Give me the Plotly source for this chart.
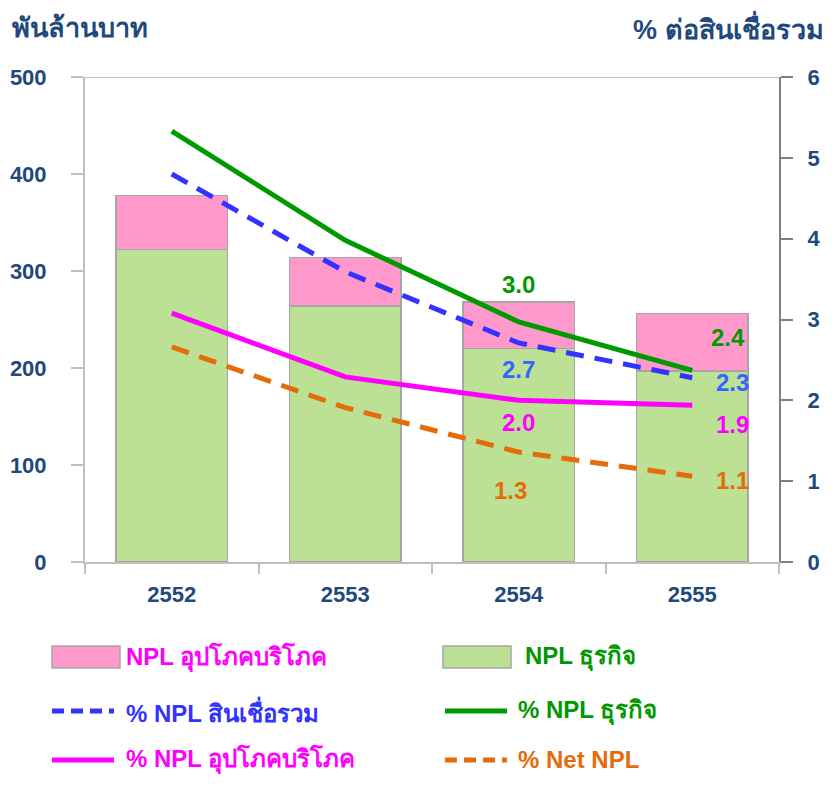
import plotly.graph_objects as go

years = ["2552", "2553", "2554", "2555"]
npl_business = [322, 264, 220, 197]
npl_consumer = [56, 50, 48, 59]
pct_total = [4.80, 3.59, 2.71, 2.28]
pct_business = [5.33, 3.98, 2.97, 2.37]
pct_consumer = [3.08, 2.29, 2.00, 1.94]
pct_net = [2.66, 1.91, 1.36, 1.06]
lbl_total = ["", "", "2.7", "2.3"]
lbl_business = ["", "", "3.0", "2.4"]
lbl_consumer = ["", "", "2.0", "1.9"]
lbl_net = ["", "", "1.3", "1.1"]
left_ticks = [0, 100, 200, 300, 400, 500]
right_ticks = [0, 1, 2, 3, 4, 5, 6]

NAVY = "#1F497D"
TICKFONT = dict(family="Liberation Sans Narrow, Arial Narrow, Liberation Sans, sans-serif",
                size=22, color=NAVY, weight="bold")
C_PINK, C_LGREEN = "#FF99CC", "#BCE194"
C_BLUE, C_GREEN, C_MAG, C_ORANGE = "#3333FF", "#009900", "#FF00FF", "#E46C0A"
C_BLUE_TXT = "#3366FF"

OFF = 8  # page body margin
W, H = 835 - 2 * OFF, 786 - 2 * OFF
L, T = 85 - OFF, 77 - OFF
R = W - (779 - OFF)
B = H - (562 - OFF)
pw, ph = W - L - R, H - T - B


def px(xp):  # reference screen pixel -> paper x
    return (xp - OFF - L) / pw


def py(yp):  # reference screen pixel -> paper y
    return (H - B - (yp - OFF)) / ph


fig = go.Figure()
bar_line = dict(color="#A6A6A6", width=1.5)
fig.add_bar(x=years, y=npl_business, marker=dict(color=C_LGREEN, line=bar_line),
            width=0.645, showlegend=False)
fig.add_bar(x=years, y=npl_consumer, marker=dict(color=C_PINK, line=bar_line),
            width=0.645, showlegend=False)

lines = [
    (pct_total, C_BLUE, "18px,11px"),
    (pct_business, C_GREEN, "solid"),
    (pct_consumer, C_MAG, "solid"),
    (pct_net, C_ORANGE, "18px,11px"),
]
for vals, col, dash in lines:
    fig.add_scatter(x=years, y=vals, yaxis="y2", mode="lines",
                    line=dict(color=col, width=5, dash=dash), showlegend=False)

# data labels
LBLFONT = dict(family="Liberation Sans, Arial, sans-serif", size=24, weight="bold")
label_specs = [
    (pct_business, lbl_business, C_GREEN, [(0, 37), (36, 33)]),
    (pct_total, lbl_total, C_BLUE_TXT, [(0, -27), (40, -5)]),
    (pct_consumer, lbl_consumer, C_MAG, [(0, -22), (40, -19)]),
    (pct_net, lbl_net, C_ORANGE, [(-8, -38), (40, -4)]),
]
for vals, lbls, col, shifts in label_specs:
    k = 0
    for i, t in enumerate(lbls):
        if not t:
            continue
        dx, dy = shifts[k]
        k += 1
        fig.add_annotation(x=i, y=vals[i], xref="x", yref="y2", text=t,
                           showarrow=False, xshift=dx, yshift=dy,
                           font=dict(color=col, **LBLFONT))

# top border line at 500
fig.add_shape(type="line", xref="paper", yref="y", x0=px(73), x1=1, y0=500, y1=500,
              line=dict(color="#BFBFBF", width=2))

# axis titles
TITLEFONT = dict(family="Liberation Sans Narrow, Liberation Sans, sans-serif",
                 size=27, color=NAVY, weight="bold")
fig.add_annotation(x=px(10), y=py(28), xref="paper", yref="paper", text="พันล้านบาท",
                   showarrow=False, xanchor="left", yanchor="middle", font=TITLEFONT)
fig.add_annotation(x=px(826), y=py(28), xref="paper", yref="paper", text="% ต่อสินเชื่อรวม",
                   showarrow=False, xanchor="right", yanchor="middle", font=TITLEFONT)

LEGFONT = dict(family="Liberation Sans, Arial, sans-serif", size=24, weight="bold")
legend_items = [
    ("box", C_PINK, None, "NPL อุปโภคบริโภค", C_MAG, 52, 657),
    ("box", C_LGREEN, None, "NPL ธุรกิจ", C_GREEN, 443, 657),
    ("line", C_BLUE, "dash", "% NPL สินเชื่อรวม", C_BLUE, 50, 711),
    ("line", C_GREEN, "solid", "% NPL ธุรกิจ", C_GREEN, 443, 711),
    ("line", C_MAG, "solid", "% NPL อุปโภคบริโภค", C_MAG, 50, 760),
    ("line", C_ORANGE, "dash", "% Net NPL", C_ORANGE, 443, 760),
]
for kind, col, dash, text, tcol, x0, yc in legend_items:
    if kind == "box":
        fig.add_shape(type="rect", xref="paper", yref="paper",
                      x0=px(x0), x1=px(x0 + 68), y0=py(yc - 11), y1=py(yc + 11),
                      fillcolor=col, line=dict(color="#A6A6A6", width=1.5))
        tx = x0 + 72 if col == C_PINK else x0 + 80
    else:
        fig.add_shape(type="line", xref="paper", yref="paper",
                      x0=px(x0 + 2), x1=px(x0 + 64), y0=py(yc), y1=py(yc),
                      line=dict(color=col, width=5,
                                dash="12px,7px" if dash == "dash" else "solid"))
        tx = x0 + 74 if col in (C_BLUE, C_MAG) else x0 + 73
    fig.add_annotation(x=px(tx), y=py(yc), xref="paper", yref="paper", text=text,
                       showarrow=False, xanchor="left", yanchor="middle",
                       font=dict(color=tcol, **LEGFONT))

fig.update_layout(
    barmode="stack",
    width=W, height=H,
    margin=dict(l=L, r=R, t=T, b=B, autoexpand=False),
    plot_bgcolor="white", paper_bgcolor="white",
    showlegend=False,
    xaxis=dict(type="category", range=[-0.5, 3.5], showline=True, linecolor="#BFBFBF",
               linewidth=2, ticks="outside", tickson="boundaries", ticklen=10,
               tickcolor="#BFBFBF", tickwidth=2, tickfont=TICKFONT, tickangle=0,
               ticklabelstandoff=12, showgrid=False, automargin=False),
    yaxis=dict(range=[0, 500], tickvals=left_ticks, showline=True, linecolor="#BFBFBF",
               linewidth=2, ticks="outside", ticklen=12, tickcolor="#BFBFBF", tickwidth=2,
               tickfont=TICKFONT, ticklabelstandoff=20, showgrid=False, zeroline=False,
               automargin=False),
    yaxis2=dict(range=[0, 6], tickvals=right_ticks, overlaying="y", side="right",
                showline=True, linecolor="#808080", linewidth=2, ticks="outside",
                ticklen=12, tickcolor="#808080", tickwidth=2, tickfont=TICKFONT,
                ticklabelstandoff=10, showgrid=False, zeroline=False, automargin=False),
)

fig.write_html("out.html")
